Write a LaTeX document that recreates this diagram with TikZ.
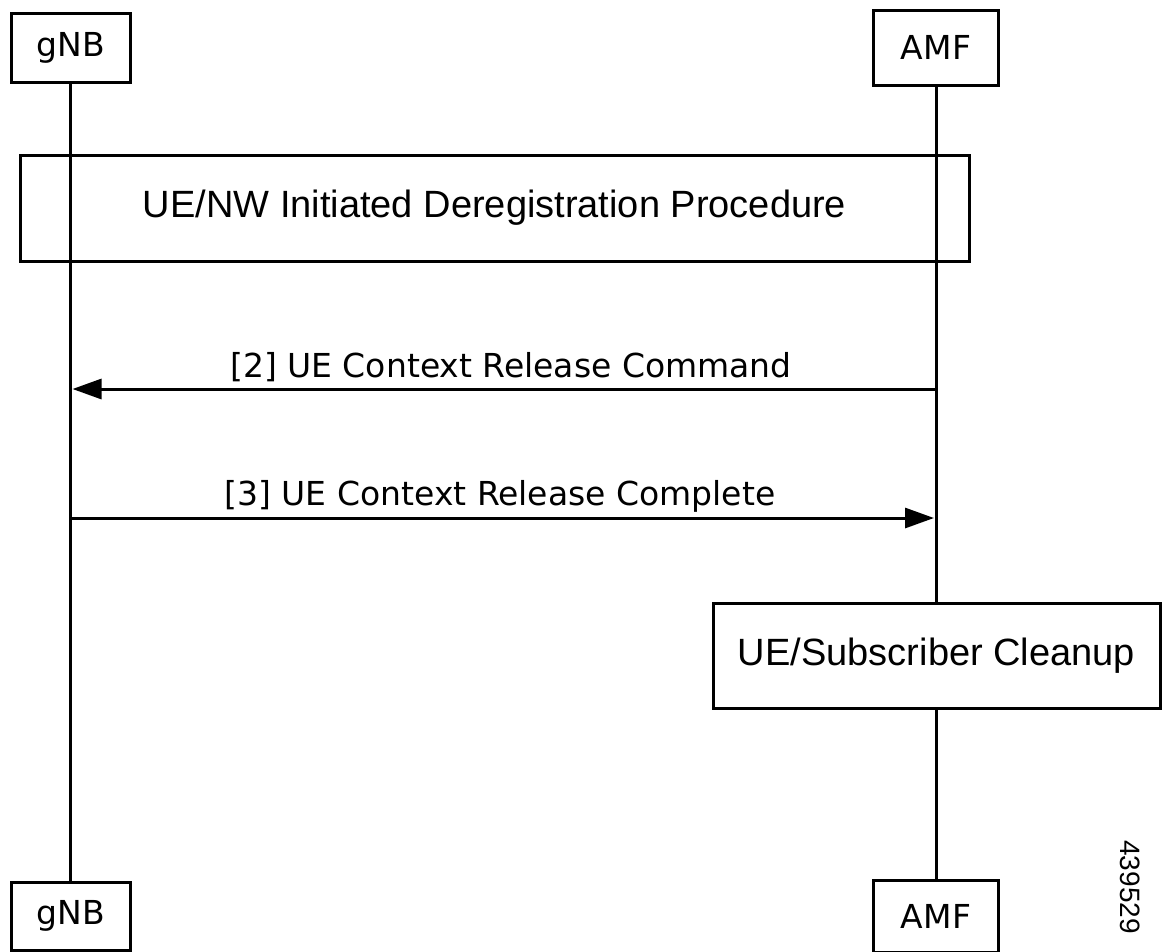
\documentclass[tikz,border=0pt]{standalone}
\usepackage{fontspec}
\setmainfont{Liberation Sans}
\newfontfamily\tah{DejaVu Sans}
\usetikzlibrary{arrows.meta}
\begin{document}
\begin{tikzpicture}[x=0.75pt,y=-0.75pt,
  every node/.style={inner sep=0pt,outer sep=0pt},
  line/.style={line width=2.25pt},
  ent/.style={draw,line width=2.25pt,fill=white,minimum width=89.25pt,font=\tah\fontsize{24.75pt}{28pt}\selectfont},
  proc/.style={draw,line width=2.25pt,font=\fontsize{28.5pt}{32pt}\selectfont},
  lbl/.style={anchor=base,font=\tah\fontsize{24.75pt}{28pt}\selectfont},
  msg/.style={line width=2.25pt,-{Triangle[length=21.75pt,width=15pt]},shorten >=1.5pt}]
\useasboundingbox (0,0) rectangle (1163,951);
% entities
\node[ent,minimum height=51.75pt] (gNBt) at (70.5,47.5) {gNB};
\node[ent,minimum width=93.75pt,minimum height=56.25pt] (AMFt) at (936,47.5) {AMF};
\node[ent,minimum height=51pt] (gNBb) at (70.5,916) {gNB};
\node[ent,minimum width=93.75pt,minimum height=54pt] (AMFb) at (936,916) {AMF};
% lifelines
\draw[line] (gNBt.south) -- (gNBb.north);
\draw[line] (AMFt.south) -- (AMFb.north);
% procedure boxes
\node[proc,minimum width=711.75pt,minimum height=79.5pt] (dereg) at (494.5,208) {UE/NW Initiated Deregistration Procedure};
\node[proc,fill=white,minimum width=335.25pt,minimum height=78.75pt] (clean) at (936.5,655.5) {UE/Subscriber Cleanup};
% messages
\coordinate (y2) at (0,389);
\coordinate (y3) at (0,518);
\draw[msg] (AMFt |- y2) -- (gNBt |- y2);
\draw[msg] (gNBt |- y3) -- (AMFt |- y3);
\node[lbl] (l2) at (511,377) {[2] UE Context Release Command};
\node[lbl] (l3) at (500,505) {[3] UE Context Release Complete};
% figure id
\node[rotate=-90,font=\fontsize{21pt}{24pt}\selectfont] (fid) at (1130,887) {439529};
\end{tikzpicture}
\end{document}
